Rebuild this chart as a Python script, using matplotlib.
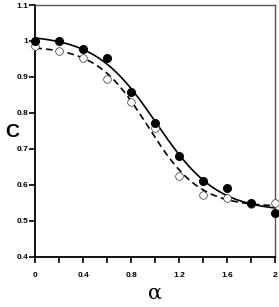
import numpy as np
import matplotlib
matplotlib.use("Agg")
import matplotlib.pyplot as plt

# data
alpha = [0.0, 0.2, 0.4, 0.6, 0.8, 1.0, 1.2, 1.4, 1.6, 1.8, 2.0]
c_filled = [1.000, 0.999, 0.978, 0.952, 0.858, 0.771, 0.681, 0.610, 0.590, 0.550, 0.521]
c_open = [0.985, 0.973, 0.953, 0.895, 0.831, 0.759, 0.625, 0.572, 0.564, 0.547, 0.549]

x_ticks = [0, 0.4, 0.8, 1.2, 1.6, 2.0]
x_labels = ["0", "0.4", "0.8", "1.2", "1.6", "2"]
y_ticks = [0.4, 0.5, 0.6, 0.7, 0.8, 0.9, 1.0, 1.1]
y_labels = ["0.4", "0.5", "0.6", "0.7", "0.8", "0.9", "1", "1.1"]


# fit a Boltzmann sigmoid to the points (grid search + linear least squares)
def fit_sigmoid(x, y):
    x = np.asarray(x)
    y = np.asarray(y)
    best = None
    for x0 in np.linspace(0.5, 1.5, 101):
        for dx in np.linspace(0.08, 0.5, 85):
            s = 1.0 / (1.0 + np.exp((x - x0) / dx))
            A = np.column_stack([np.ones_like(x), s])
            coef, *_ = np.linalg.lstsq(A, y, rcond=None)
            err = np.sum((A @ coef - y) ** 2)
            if best is None or err < best[0]:
                best = (err, x0, dx, coef)
    _, x0, dx, coef = best
    return lambda t: coef[0] + coef[1] / (1.0 + np.exp((t - x0) / dx))


f_filled = fit_sigmoid(alpha, c_filled)
f_open = fit_sigmoid(alpha, c_open)
xs = np.linspace(0, 2, 200)

plt.rcParams['font.family'] = ['Liberation Sans', 'DejaVu Sans']
fig = plt.figure(figsize=(2.79, 3.07), dpi=100)
ax = fig.add_axes([0.1265, 0.1638, 0.8592, 0.8199])

ax.plot(xs, f_filled(xs), color='black', lw=1.2, zorder=2)
ax.plot(xs, f_open(xs), color='black', lw=1.2, ls=(0, (4, 2.5)), zorder=2)
ax.plot(alpha, c_open, 'o', ms=5.5, mfc='white', mec='#333333', mew=0.5, zorder=3, clip_on=False)
ax.plot(alpha, c_filled, 'o', ms=5.5, mfc='black', mec='black', zorder=4, clip_on=False)

ax.set_xlim(0, 2)
ax.set_ylim(0.4, 1.1)
ax.set_xticks(x_ticks)
ax.set_xticklabels(x_labels, fontsize=6, fontweight='bold')
ax.set_xticks([0.2, 0.6, 1.0, 1.4, 1.8], minor=True)
ax.set_yticks(y_ticks)
ax.set_yticklabels(y_labels, fontsize=6, fontweight='bold')

ax.tick_params(axis='x', which='major', direction='out', length=4, width=1.2, pad=7)
ax.tick_params(axis='x', which='minor', direction='out', length=4, width=1.2)
ax.tick_params(axis='y', which='major', direction='out', length=4, width=1.2, pad=1)

for s in ['left', 'bottom']:
    ax.spines[s].set_linewidth(1.3)
    ax.spines[s].set_color('black')
for s in ['top', 'right']:
    ax.spines[s].set_linewidth(1.0)
    ax.spines[s].set_color('#555555')

fig.text(0.045, 0.57, "C", fontsize=14, fontweight='bold', ha='center', va='center')
fig.text(0.555, 0.045, "α", fontsize=15, ha='center', va='center', family=['DejaVu Serif'])

fig.savefig("out.png", dpi=100)
